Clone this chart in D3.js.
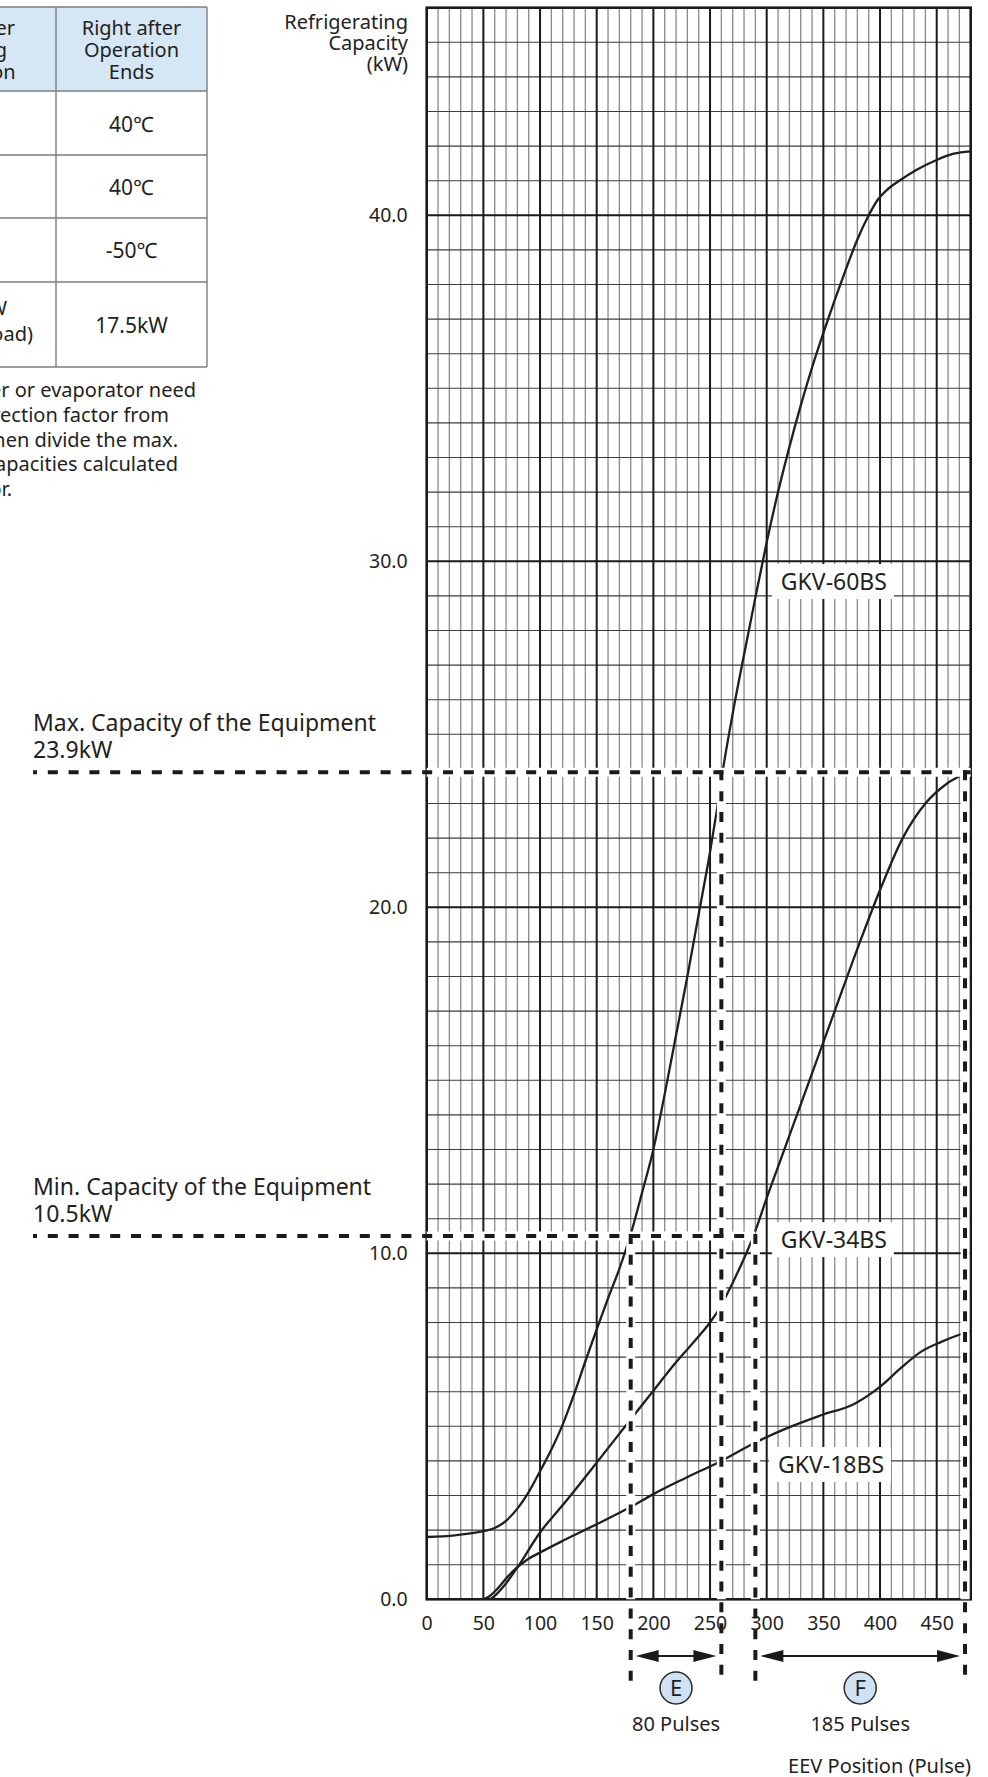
<!DOCTYPE html>
<html><head><meta charset="utf-8">
<script src="https://cdn.jsdelivr.net/npm/d3@7"></script>
<style>
html,body{margin:0;padding:0;background:#fff;}
svg{display:block;}
text{font-family:"Noto Sans","Noto Sans CJK JP",sans-serif;fill:#231f20;}
</style></head><body>
<svg id="chart" width="988" height="1777"></svg>
<script>
// ---------------- data ----------------
const modelNames = ["GKV-60BS", "GKV-34BS", "GKV-18BS"];
const gkv60Pulse = [0,25,50,60,70,80,90,100,110,120,130,140,150,160,170,180,190,200,210,220,230,240,250,256,261,270,280,290,300,310,320,330,340,350,360,370,380,390,398,406,418,432,450,465,480];
const gkv60Cap   = [1.80,1.85,1.97,2.06,2.27,2.62,3.10,3.70,4.33,5.05,5.92,6.88,7.80,8.70,9.55,10.55,11.75,13.00,14.60,16.30,18.00,19.80,21.60,22.80,23.90,25.60,27.30,28.95,30.55,32.00,33.30,34.50,35.60,36.60,37.55,38.45,39.30,40.00,40.45,40.73,41.02,41.31,41.60,41.78,41.85];
const gkv34Pulse = [56,60,67,79,100,123,150,179,200,220,240,250,260,270,280,290,300,310,320,340,360,380,400,420,440,460,475,480];
const gkv34Cap   = [0,0.10,0.34,0.87,1.93,2.84,3.95,5.16,6.03,6.85,7.60,8.00,8.50,9.15,9.85,10.65,11.60,12.50,13.40,15.20,17.00,18.80,20.50,22.00,23.00,23.60,23.90,24.05];
const gkv18Pulse = [50,55,62,70,79,88,100,120,150,179,200,228,260,290,319,348,378,389,401,419,436,454,471,480];
const gkv18Cap   = [0,0.08,0.29,0.60,0.90,1.13,1.35,1.69,2.17,2.65,3.04,3.50,4.00,4.53,4.96,5.32,5.66,5.88,6.17,6.70,7.15,7.44,7.66,7.76];

const xTickValues = [0,50,100,150,200,250,300,350,400,450];
const yTickValues = [0,10,20,30,40];
const capacityLimits = [23.9, 10.5];            // max, min
const capacityLabels = ["Max. Capacity of the Equipment", "Min. Capacity of the Equipment"];
const capacityValueLabels = ["23.9kW", "10.5kW"];
const rangeNames = ["E", "F"];
const rangeStart = [180, 290];
const rangeEnd = [260, 475];
const rangePulseLabels = ["80 Pulses", "185 Pulses"];

const tableHeader = ["Right after", "Operation", "Ends"];
const tableHeaderLeft = ["Right after", "Starting", "Operation"];
const tableValues = ["40℃", "40℃", "-50℃", "17.5kW"];
const noteLines = [
  "*When the correction factor of condenser or evaporator need",
  "to be considered, find the correction factor from",
  "the graph on the previous page, then divide the max.",
  "and min. capacities calculated",
  "above by the correction factor."
];

// ---------------- drawing ----------------
const svg = d3.select("#chart");
svg.append("rect").attr("width",988).attr("height",1777).attr("fill","#fff");

const x = d3.scaleLinear().domain([0,480]).range([426.7,970.7]);
const y = d3.scaleLinear().domain([0,46]).range([1599.3,7.7]);

// ---- table (cropped at left edge) ----
const tb = svg.append("g");
const rowLines = [7,91,155,218,282,367];
tb.append("rect").attr("x",0).attr("y",7).attr("width",207).attr("height",84).attr("fill","#d5e6f5");
tb.selectAll("line.h").data(rowLines).join("line")
  .attr("x1",0).attr("x2",207).attr("y1",d=>d).attr("y2",d=>d)
  .attr("stroke","#7d7d7d").attr("stroke-width",1.4);
tb.selectAll("line.v").data([56,207]).join("line")
  .attr("x1",d=>d).attr("x2",d=>d).attr("y1",7).attr("y2",367)
  .attr("stroke","#7d7d7d").attr("stroke-width",1.4);
tb.selectAll("text.hd").data(tableHeader).join("text")
  .attr("x",131.5).attr("y",(d,i)=>35+i*22).attr("text-anchor","middle")
  .attr("font-size",20).text(d=>d);
tb.selectAll("text.hl").data(tableHeaderLeft).join("text")
  .attr("x",(d,i)=>[15,7,15.6][i]).attr("y",(d,i)=>35+i*22).attr("text-anchor","end")
  .attr("font-size",20).text(d=>d);
tb.selectAll("text.val").data(tableValues).join("text")
  .attr("x",131.5).attr("y",(d,i)=>[131.5,195,258,333][i]).attr("text-anchor","middle")
  .attr("font-size",21).text(d=>d);
tb.append("text").attr("x",7).attr("y",315).attr("text-anchor","end").attr("font-size",20).text("24.0kW");
tb.append("text").attr("x",33).attr("y",341).attr("text-anchor","end").attr("font-size",20).text("(Max. Load)");
tb.selectAll("text.note").data(noteLines).join("text")
  .attr("x",(d,i)=>[196,169,178,178,12][i]).attr("y",(d,i)=>397+i*24.75)
  .attr("text-anchor","end").attr("font-size",20).text(d=>d);

// ---- grid ----
const grid = svg.append("g");
const hMinor = d3.range(1,46).filter(v=>v%10!==0);
const hMajor = d3.range(10,46,10);
const vMinor = d3.range(10,480,10).filter(v=>v%50!==0);
const vMajor = d3.range(50,480,50);
grid.selectAll("line.vmin").data(vMinor).join("line")
  .attr("x1",d=>x(d)).attr("x2",d=>x(d)).attr("y1",y(0)).attr("y2",y(46))
  .attr("stroke","#8a8a8a").attr("stroke-width",1.3);
grid.selectAll("line.hmin").data(hMinor).join("line")
  .attr("x1",x(0)).attr("x2",x(480)).attr("y1",d=>y(d)).attr("y2",d=>y(d))
  .attr("stroke","#3c3c3c").attr("stroke-width",1.1);
grid.selectAll("line.vmaj").data(vMajor).join("line")
  .attr("x1",d=>x(d)).attr("x2",d=>x(d)).attr("y1",y(0)).attr("y2",y(46))
  .attr("stroke","#1a1a1a").attr("stroke-width",2);
grid.selectAll("line.hmaj").data(hMajor).join("line")
  .attr("x1",x(0)).attr("x2",x(480)).attr("y1",d=>y(d)).attr("y2",d=>y(d))
  .attr("stroke","#1a1a1a").attr("stroke-width",2);
grid.append("rect").attr("x",x(0)).attr("y",y(46)).attr("width",x(480)-x(0)).attr("height",y(0)-y(46))
  .attr("fill","none").attr("stroke","#1a1a1a").attr("stroke-width",2.6);

// ---- curves ----
const series = [
  {name:modelNames[0], p:gkv60Pulse, c:gkv60Cap},
  {name:modelNames[1], p:gkv34Pulse, c:gkv34Cap},
  {name:modelNames[2], p:gkv18Pulse, c:gkv18Cap}
];
const line = d3.line().x(d=>x(d[0])).y(d=>y(d[1])).curve(d3.curveMonotoneX);
svg.append("g").selectAll("path").data(series).join("path")
  .attr("d",s=>line(s.p.map((v,i)=>[v,s.c[i]])))
  .attr("fill","none").attr("stroke","#1f1f1f").attr("stroke-width",2.3);

// ---- dashed guide lines ----
const dashG = svg.append("g");
const hEnds = [x(480), x(rangeStart[1])];
capacityLimits.forEach((v,i)=>{
  const yy = y(v);
  dashG.append("line").attr("x1",x(0)).attr("x2",hEnds[i]).attr("y1",yy).attr("y2",yy)
    .attr("stroke","#fff").attr("stroke-width",9);
});
const vTops = [[rangeStart[0],capacityLimits[1]],[rangeEnd[0],capacityLimits[0]],[rangeStart[1],capacityLimits[1]],[rangeEnd[1],capacityLimits[0]]];
vTops.forEach(([p,c])=>{
  dashG.append("line").attr("x1",x(p)).attr("x2",x(p)).attr("y1",y(c)).attr("y2",y(0))
    .attr("stroke","#fff").attr("stroke-width",9);
});
capacityLimits.forEach((v,i)=>{
  const yy = y(v);
  dashG.append("line").attr("x1",33).attr("x2",hEnds[i]).attr("y1",yy).attr("y2",yy)
    .attr("stroke","#1a1a1a").attr("stroke-width",4).attr("stroke-dasharray","10,10.8").attr("stroke-dashoffset",6);
});
vTops.forEach(([p,c])=>{
  dashG.append("line").attr("x1",x(p)).attr("x2",x(p)).attr("y1",y(c)-2).attr("y2",1683)
    .attr("stroke","#1a1a1a").attr("stroke-width",4).attr("stroke-dasharray","10,10.8");
});

// ---- capacity annotations ----
capacityLimits.forEach((v,i)=>{
  const yy = y(v);
  svg.append("text").attr("x",33).attr("y",yy-41).attr("font-size",23).text(capacityLabels[i]);
  svg.append("text").attr("x",33).attr("y",yy-14).attr("font-size",23).text(capacityValueLabels[i]);
});

// ---- series labels with white boxes ----
const labelPos = [[312.5,29.17],[312.5,10.15],[310,3.65]];
series.forEach((s,i)=>{
  const lx = x(labelPos[i][0]), ly = y(labelPos[i][1]);
  svg.append("rect").attr("x",lx-9).attr("y",ly-26).attr("width",122).attr("height",35).attr("fill","#fff");
  svg.append("text").attr("x",lx).attr("y",ly).attr("font-size",23).text(s.name);
});

// ---- axes ----
const xAxis = svg.append("g").attr("transform",`translate(0,${y(0)})`)
  .call(d3.axisBottom(x).tickValues(xTickValues).tickSize(0).tickPadding(17).tickFormat(d3.format("d")));
xAxis.select(".domain").remove();
xAxis.selectAll("text").attr("font-size",19.5).attr("font-family","Noto Sans").attr("fill","#231f20");
const yAxis = svg.append("g").attr("transform",`translate(${x(0)},0)`)
  .call(d3.axisLeft(y).tickValues(yTickValues).tickSize(0).tickPadding(19).tickFormat(d3.format(".1f")));
yAxis.select(".domain").remove();
yAxis.selectAll("text").attr("font-size",19.5).attr("font-family","Noto Sans").attr("fill","#231f20");

// axis titles
["Refrigerating","Capacity","(kW)"].forEach((t,i)=>{
  svg.append("text").attr("x",408).attr("y",29+i*21).attr("text-anchor","end").attr("font-size",20).text(t);
});
svg.append("text").attr("x",971).attr("y",1773).attr("text-anchor","end").attr("font-size",20).text("EEV Position (Pulse)");

// ---- range arrows & circles ----
const arrowY = 1656;
rangeNames.forEach((nm,i)=>{
  const a = x(rangeStart[i])+5, b = x(rangeEnd[i])-5;
  svg.append("line").attr("x1",a+10).attr("x2",b-10).attr("y1",arrowY).attr("y2",arrowY)
    .attr("stroke","#1a1a1a").attr("stroke-width",2);
  svg.append("path").attr("d",`M${a},${arrowY} L${a+23},${arrowY-6} L${a+23},${arrowY+6} Z`).attr("fill","#1a1a1a");
  svg.append("path").attr("d",`M${b},${arrowY} L${b-23},${arrowY-6} L${b-23},${arrowY+6} Z`).attr("fill","#1a1a1a");
  const cx = (x(rangeStart[i])+x(rangeEnd[i]))/2;
  svg.append("circle").attr("cx",cx).attr("cy",1688).attr("r",16)
    .attr("fill","#cfe2f3").attr("stroke","#2a2a2a").attr("stroke-width",1.5);
  svg.append("text").attr("x",cx).attr("y",1696).attr("text-anchor","middle").attr("font-size",22).text(nm);
  svg.append("text").attr("x",cx).attr("y",1731).attr("text-anchor","middle").attr("font-size",20).text(rangePulseLabels[i]);
});
</script>
</body></html>
